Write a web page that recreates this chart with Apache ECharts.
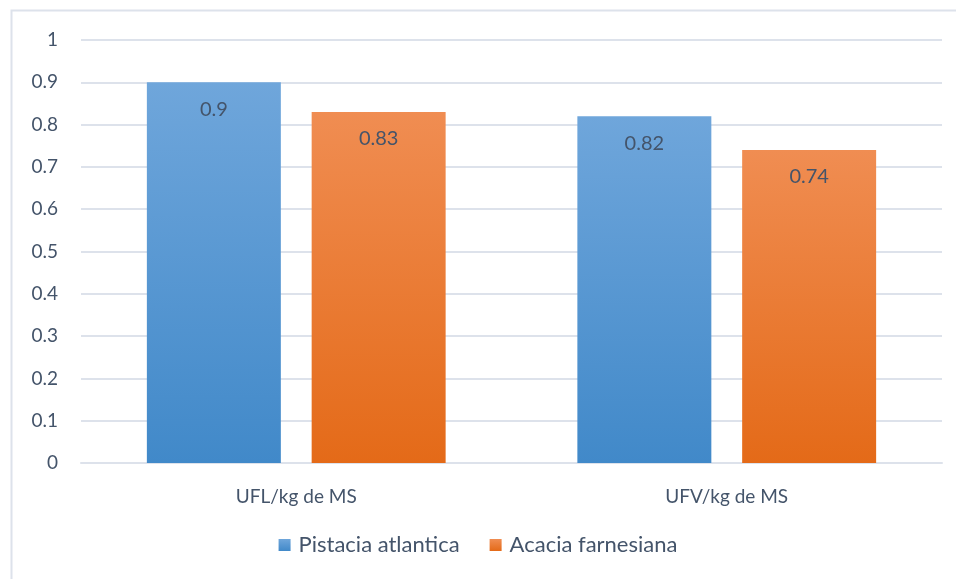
<!DOCTYPE html>
<html>
<head>
<meta charset="utf-8">
<script src="https://cdn.jsdelivr.net/npm/echarts@6/dist/echarts.min.js"></script>
<style>
  html, body { margin: 0; padding: 0; background: #fff; }
  #chart { width: 956px; height: 579px; }
</style>
</head>
<body>
<div id="chart"></div>
<script>
// Energy values per kg of dry matter for two forage species
const categories = ['UFL/kg de MS', 'UFV/kg de MS'];
const seriesNames = ['Pistacia atlantica', 'Acacia farnesiana'];
const pistaciaValues = [0.9, 0.82];
const acaciaValues = [0.83, 0.74];
const yTicks = [0, 0.1, 0.2, 0.3, 0.4, 0.5, 0.6, 0.7, 0.8, 0.9, 1];

const textColor = '#44546a';
const fontFamily = 'Lato, "Open Sans", sans-serif';

function grad(top, bottom) {
  return new echarts.graphic.LinearGradient(0, 0, 0, 1, [
    { offset: 0, color: top },
    { offset: 1, color: bottom }
  ]);
}

const blue = grad('#6fa6db', '#4189c9');
const orange = grad('#f08d52', '#e46a18');

const chart = echarts.init(document.getElementById('chart'), null, { renderer: 'canvas' });

const labelOpt = {
  show: true,
  position: 'insideTop',
  distance: 17,
  color: textColor,
  fontSize: 20,
  fontFamily: fontFamily
};

chart.setOption({
  animation: false,
  backgroundColor: '#fff',
  graphic: [{
    type: 'rect',
    shape: { x: 11.5, y: 10.5, width: 960, height: 600 },
    style: { fill: 'none', stroke: '#dde2eb', lineWidth: 2 },
    silent: true
  }],
  grid: { left: 81, right: 14, top: 40, bottom: 116 },
  legend: {
    data: seriesNames,
    bottom: 18,
    left: 'center',
    itemWidth: 12,
    itemHeight: 12,
    itemGap: 30,
    icon: 'rect',
    textStyle: { color: textColor, fontSize: 22, fontFamily: fontFamily, padding: [0, 0, 0, 3] }
  },
  xAxis: {
    type: 'category',
    data: categories,
    axisLine: { show: true, lineStyle: { color: '#dde2eb', width: 2 } },
    axisTick: { show: false },
    axisLabel: { color: textColor, fontSize: 19, fontFamily: fontFamily, margin: 24 }
  },
  yAxis: {
    type: 'value',
    min: yTicks[0],
    max: yTicks[yTicks.length - 1],
    interval: 0.1,
    axisLine: { show: false },
    axisTick: { show: false },
    splitLine: { lineStyle: { color: '#dde2eb', width: 2 } },
    axisLabel: {
      color: textColor, fontSize: 19, fontFamily: fontFamily, margin: 23,
      formatter: v => String(Math.round(v * 10) / 10)
    }
  },
  series: [
    {
      name: seriesNames[0],
      type: 'bar',
      data: pistaciaValues,
      barGap: '23%',
      barCategoryGap: '30.6%',
      itemStyle: { color: blue },
      label: labelOpt
    },
    {
      name: seriesNames[1],
      type: 'bar',
      data: acaciaValues,
      itemStyle: { color: orange },
      label: labelOpt
    }
  ]
});
</script>
</body>
</html>
